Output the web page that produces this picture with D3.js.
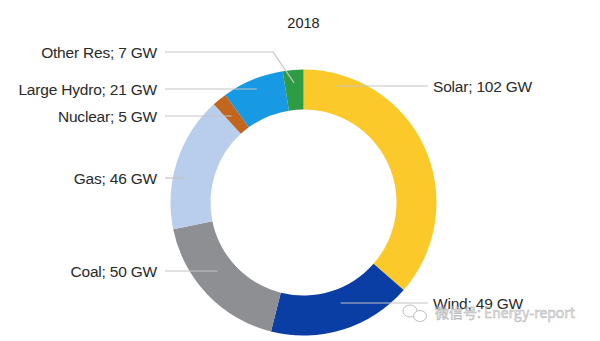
<!DOCTYPE html>
<html><head><meta charset="utf-8">
<script src="https://cdn.jsdelivr.net/npm/d3@7"></script>
<style>body{margin:0;background:#fff}svg{display:block}</style>
</head><body>
<svg id="c" width="600" height="341"></svg>
<script>
const title = "2018";
const categories = ["Solar", "Wind", "Coal", "Gas", "Nuclear", "Large Hydro", "Other Res"];
const values = [102, 49, 50, 46, 5, 21, 7];
const unit = "GW";
const colors = ["#FCC92B", "#0B3EA4", "#8E8F92", "#B9CDEC", "#C3661D", "#1899E3", "#2D9C45"];
// label layout: side, label y, leader end (angle fraction within slice, radius)
const labelSide = ["right", "right", "left", "left", "left", "left", "left"];
const labelY = [86, 303, 271, 178, 116, 89, 52];
const leaderFrac = [0.12, 0.45, 0.58, 0.3, 0.45, 0.5, 0.5];
const leaderR = [121, 106, 110, 119, 113, 122, 120];

const svg = d3.select("#c");
const cx = 303.5, cy = 202.5, rOuter = 133, rInner = 93;
const g = svg.append("g").attr("transform", `translate(${cx},${cy})`);

const pie = d3.pie().sort(null).value(d => d.v);
const data = categories.map((c, i) => ({c, v: values[i], i}));
const arcs = pie(data);
const arc = d3.arc().innerRadius(rInner).outerRadius(rOuter);

g.selectAll("path.slice").data(arcs).join("path")
  .attr("class", "slice")
  .attr("d", arc)
  .attr("fill", d => colors[d.data.i]);

svg.append("text").attr("x", cx).attr("y", 28)
  .attr("text-anchor", "middle")
  .attr("font-family", "Liberation Sans, Arial, sans-serif")
  .attr("font-size", 14.5).attr("fill", "#222").text(title);

const leftTextX = 157, leftLineX = 165, rightTextX = 433, rightLineX = 428;
arcs.forEach((a, k) => {
  const i = a.data.i;
  const ang = a.startAngle + leaderFrac[i] * (a.endAngle - a.startAngle);
  const ex = cx + Math.sin(ang) * leaderR[i];
  const ey = cy - Math.cos(ang) * leaderR[i];
  const y = labelY[i];
  let pts;
  if (labelSide[i] === "left") {
    if (categories[i] === "Other Res") pts = [[leftLineX, y], [273, y], [ex, ey]];
    else pts = [[leftLineX, y], [ex, y]];
  } else {
    pts = [[rightLineX, y], [ex, y]];
  }
  svg.append("path").attr("d", d3.line()(pts))
    .attr("fill", "none").attr("stroke", "#c4c4c4").attr("stroke-width", 1.2);
  svg.append("text")
    .attr("x", labelSide[i] === "left" ? leftTextX : rightTextX)
    .attr("y", y).attr("dy", "0.36em")
    .attr("text-anchor", labelSide[i] === "left" ? "end" : "start")
    .attr("font-family", "Liberation Sans, Arial, sans-serif")
    .attr("font-size", 15.5).attr("letter-spacing", -0.2).attr("fill", "#2a2a2a")
    .text(`${categories[i]}; ${values[i]} ${unit}`);
});

// watermark
const wm = svg.append("g").attr("opacity", 0.75);
wm.append("ellipse").attr("cx", 410).attr("cy", 311).attr("rx", 7).attr("ry", 6)
  .attr("fill", "none").attr("stroke", "#aaa").attr("stroke-width", 1);
wm.append("ellipse").attr("cx", 420).attr("cy", 316).attr("rx", 6.5).attr("ry", 5.5)
  .attr("fill", "#fff").attr("stroke", "#aaa").attr("stroke-width", 1);
wm.append("text").attr("x", 435).attr("y", 313).attr("dy", "0.36em")
  .attr("font-family", "Noto Sans CJK SC, sans-serif").attr("font-size", 14)
  .attr("fill", "#e2e2e2").attr("stroke", "#9a9a9a").attr("stroke-width", 0.5)
  .text("微信号: Energy-report");
</script>
</body></html>
